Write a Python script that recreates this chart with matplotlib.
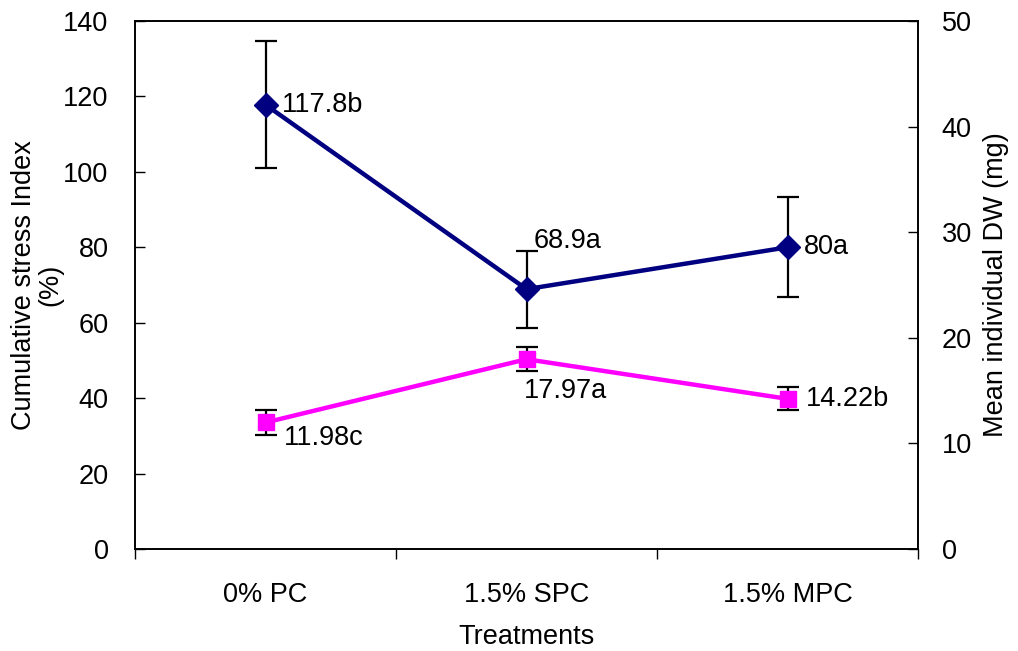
import matplotlib
matplotlib.use("Agg")
import matplotlib.pyplot as plt
import numpy as np

plt.rcParams['font.family'] = ['Liberation Sans', 'DejaVu Sans']

categories = ["0% PC", "1.5% SPC", "1.5% MPC"]
stress_index = [117.8, 68.9, 80.0]
stress_err = [16.8, 10.2, 13.3]
stress_labels = ["117.8b", "68.9a", "80a"]
dw_mean = [11.98, 17.97, 14.22]
dw_err = [1.15, 1.13, 1.1]
dw_labels = ["11.98c", "17.97a", "14.22b"]

fig = plt.figure(figsize=(10.18, 6.51), dpi=100)
ax = fig.add_axes([135/1018, 1-549/651, (918-135)/1018, (549-21)/651])
ax2 = ax.twinx()

x = np.arange(len(categories))
fs = 19.5

ax.errorbar(x, stress_index, yerr=stress_err, color='#000080', lw=3.2,
            marker='D', markersize=12, ecolor='black', elinewidth=1.6,
            capsize=8, capthick=1.6, zorder=3)
ax2.errorbar(x, dw_mean, yerr=dw_err, color='#FF00FF', lw=3.2,
             marker='s', markersize=11, ecolor='black', elinewidth=1.6,
             capsize=8, capthick=1.6, zorder=3)

# labels
offs1 = [(12, 0), (5, 35), (12, 0)]
for xi, yi, lab, (dx, dy) in zip(x, stress_index, stress_labels, offs1):
    ax.annotate(lab, (xi, yi), xytext=(dx, dy), textcoords='offset points',
                ha='left', va='center', fontsize=fs)
offs2 = [(13, -11), (-2, -23), (13, 0)]
for xi, yi, lab, (dx, dy) in zip(x, dw_mean, dw_labels, offs2):
    ax2.annotate(lab, (xi, yi), xytext=(dx, dy), textcoords='offset points',
                 ha='left', va='center', fontsize=fs)

ax.set_xlim(-0.5, 2.5)
ax.set_ylim(0, 140)
ax2.set_ylim(0, 50)
ax.set_yticks(np.arange(0, 141, 20))
ax2.set_yticks(np.arange(0, 51, 10))

ax.set_xticks([-0.5, 0.5, 1.5, 2.5])
ax.set_xticklabels([])
ax.set_xticks(x, minor=True)
ax.set_xticklabels(categories, minor=True, fontsize=fs)
ax.tick_params(axis='x', which='major', direction='out', length=7, width=1)
ax.tick_params(axis='x', which='minor', length=0, pad=24)
ax.tick_params(axis='y', direction='in', length=7, width=1, labelsize=fs, pad=19)
ax2.tick_params(axis='y', direction='in', length=7, width=1, labelsize=fs, pad=17)

ax.set_xlabel("Treatments", fontsize=fs, labelpad=11)
ax.set_ylabel("Cumulative stress Index\n(%)", fontsize=fs, labelpad=0, linespacing=1.0)
ax2.set_ylabel("Mean individual DW (mg)", fontsize=fs, labelpad=8)

for a in (ax, ax2):
    for s in a.spines.values():
        s.set_linewidth(1.2)

fig.savefig("out.png", dpi=100)
